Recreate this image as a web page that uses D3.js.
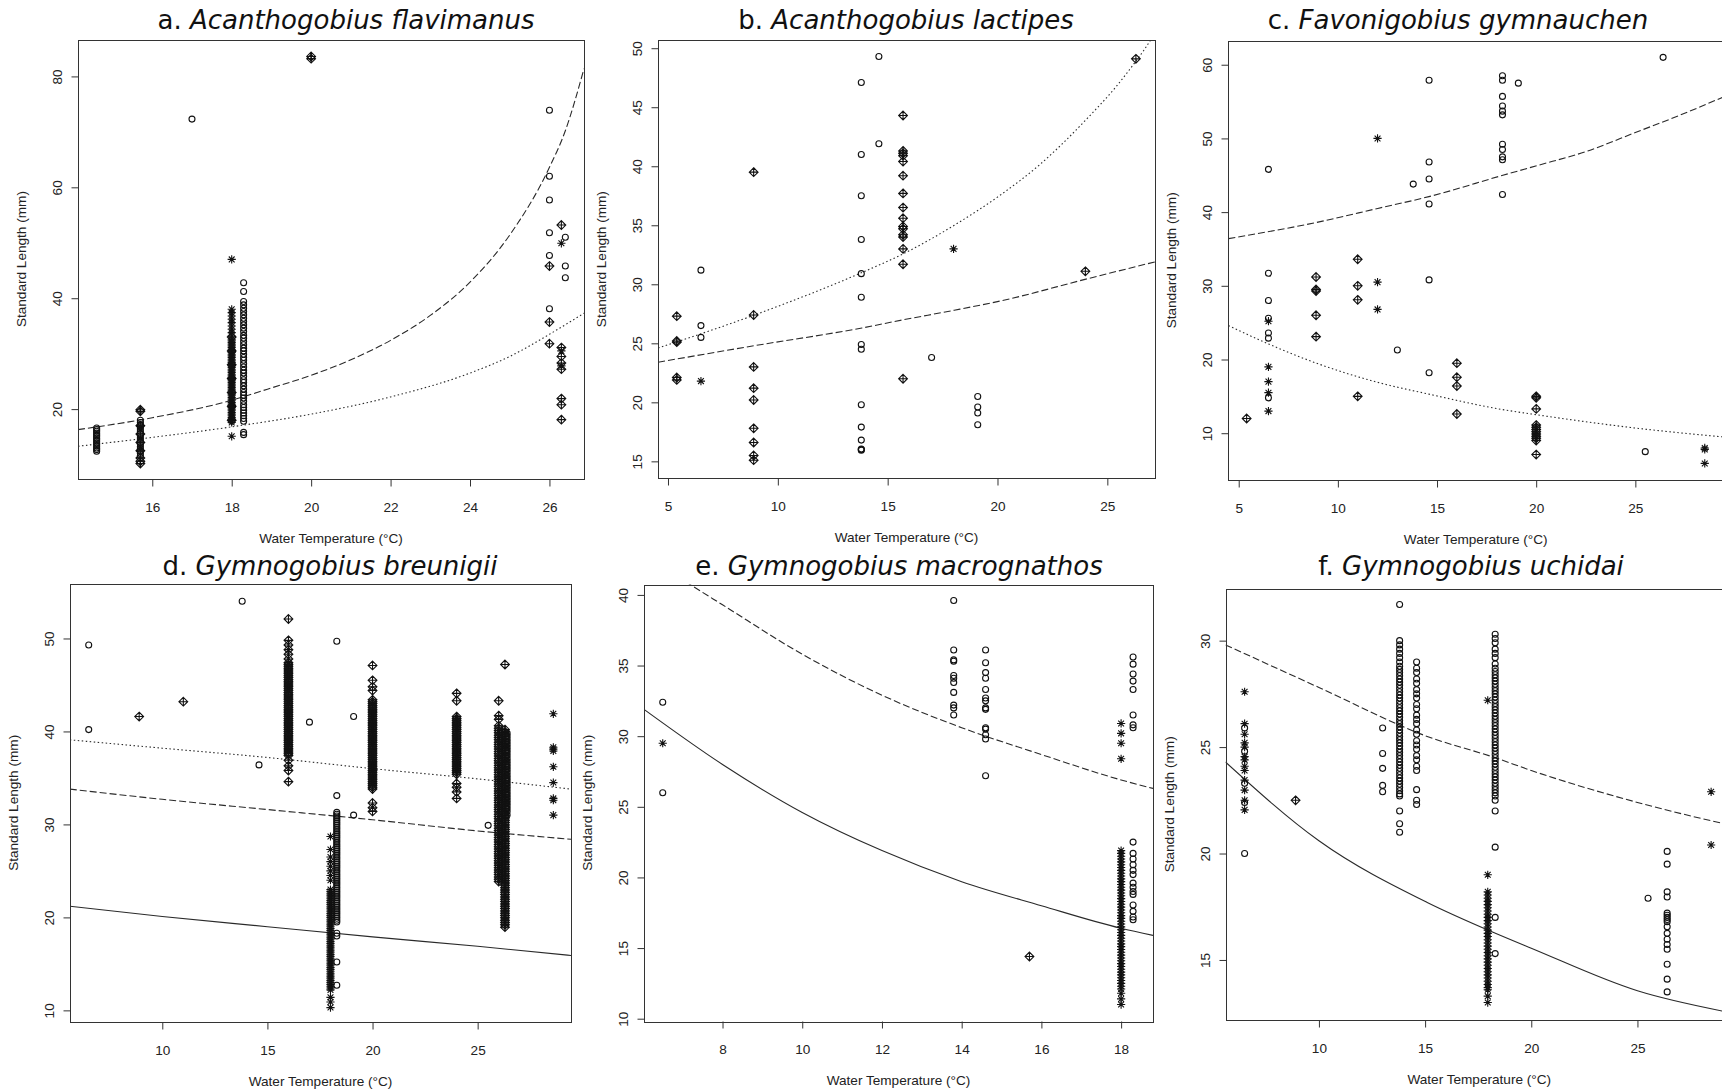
<!DOCTYPE html>
<html>
<head>
<meta charset="utf-8">
<script src="https://cdn.jsdelivr.net/npm/d3@7"></script>
<style>
  body { margin: 0; background: #fff; }
  svg { display: block; }
</style>
</head>
<body>
<svg width="1722" height="1092"></svg>
<script>
// each series: [temperature, [standard lengths...]]

// a. Acanthogobius flavimanus
const aCircle = [
  [14.6, [12.4,12.7,13.0,13.3,13.6,13.9,14.2,14.5,14.8,15.1,15.4,15.7,16.0,16.3,16.6]],
  [15.7, [11.6,12.0,12.4,12.8,13.2,13.6,14.0,14.4,14.8,15.2,15.6,16.0,16.4,16.8,17.2,17.6,18.0]],
  [17.0, [72.3]],
  [18.3, [15.4,15.8,17.8,18.3,18.8,19.3,19.8,20.3,20.8,21.4,22.0,22.5,23.0,23.6,24.2,24.8,25.3,25.9,26.5,27.0,27.6,28.2,28.8,29.3,29.9,30.5,31.0,31.6,32.2,32.8,33.3,34.0,34.6,35.2,35.8,36.4,37.0,37.6,38.2,38.8,39.4,41.2,42.8]],
  [26.0, [73.9,62.0,57.7,51.8,47.7,38.1]],
  [26.4, [51.0,45.8,43.7]]
];
const aDiamond = [
  [15.7, [10.2,10.6,11.2,12.5,14.0,15.5,17.0,19.6,19.9]],
  [18.0, [18.0,20.5,23.0,25.5,28.0,30.5,33.0]],
  [20.0, [83.2,83.6]],
  [26.0, [45.8,35.7,31.8]],
  [26.3, [53.2,31.1,29.5,28.3,27.2,21.9,20.8,18.1]]
];
const aAster = [
  [18.0, [15.1,17.6,17.9,18.2,18.5,18.8,19.1,19.4,19.7,20.0,20.3,20.6,20.9,21.2,21.5,21.8,22.1,22.4,22.7,23.0,23.3,23.6,23.9,24.2,24.5,24.8,25.1,25.4,25.7,26.0,26.3,26.6,26.9,27.2,27.5,27.8,28.1,28.4,28.7,29.0,29.3,29.6,29.9,30.2,30.5,30.8,31.1,31.4,31.7,32.0,32.3,32.6,33.2,33.8,34.4,35.0,35.6,36.2,36.8,37.4,38.0,47.0]],
  [26.3, [49.9,30.5,27.8]]
];
const aDash = [[14.13,16.3],[16,18.45],[18,21.6],[18.9,23.6],[20,26.1],[21,28.9],[22,32.4],[23,36.9],[24,42.9],[25,51.4],[26,63.6],[26.4,70.2],[26.87,81.4]];
const aDot = [[14.13,13.3],[16,14.9],[18,16.8],[20,19.1],[22,22.2],[24,26.5],[25,29.5],[26,33.5],[26.87,37.3]];

// b. Acanthogobius lactipes
const bCircle = [
  [6.5, [31.2,26.5,25.5]],
  [13.8, [47.1,41.0,37.5,33.8,30.9,28.9,24.9,24.5,19.8,17.9,16.8,16.0,15.95,16.05]],
  [14.6, [49.3,41.9]],
  [17.0, [23.8]],
  [19.1, [20.5,19.6,19.1,18.1]]
];
const bDiamond = [
  [5.4, [27.3,25.2,25.1,22.1,21.9]],
  [8.9, [39.5,27.4,23.0,21.2,20.2,17.8,16.6,15.5,15.1]],
  [15.7, [44.3,41.3,41.1,40.9,40.4,39.2,37.7,36.5,35.6,34.9,34.7,34.2,34.0,33.0,31.7,22.0]],
  [24.0, [31.1]],
  [26.3, [49.1]]
];
const bAster = [
  [6.5, [21.8]],
  [18.0, [33.0]]
];
const bDot = [[4.55,24.6],[8.94,27.4],[13.83,31.0],[15.73,32.6],[18.03,35.0],[20.16,37.6],[21.9,40.1],[24.16,44.2],[25.38,46.7],[26.34,49.0],[26.69,49.9],[27.17,51.3]];
const bDash = [[4.55,23.4],[8.94,24.8],[13.83,26.3],[15.73,27.0],[18.03,27.8],[20.16,28.6],[24.16,30.5],[27.17,31.9]];

// c. Favonigobius gymnauchen
const cCircle = [
  [6.5, [45.8,31.7,28.0,25.6,23.6,22.9,14.8]],
  [13.0, [21.3]],
  [13.8, [43.8]],
  [14.6, [57.9,46.8,44.5,41.1,30.8,18.2]],
  [18.3, [58.5,57.9,55.7,54.4,53.7,53.2,49.2,48.5,47.5,47.1,42.4]],
  [19.1, [57.5]],
  [25.5, [7.5]],
  [26.4, [61.0]]
];
const cDiamond = [
  [5.4, [12.0]],
  [8.9, [31.2,29.5,29.3,26.0,23.1]],
  [11.0, [33.6,30.0,28.1,15.0]],
  [16.0, [19.5,17.6,16.4,12.6]],
  [20.0, [15.0,14.8,13.3,11.1,10.8,10.5,10.2,9.9,9.6,9.3,9.0,7.1]]
];
const cAster = [
  [6.5, [25.2,19.0,17.0,15.5,13.0]],
  [12.0, [50.0,30.5,26.8]],
  [28.5, [8.0,7.8,5.9]]
];
const cDash = [[4.48,36.4],[8.92,38.6],[12.01,40.5],[14.59,42.1],[18.32,45.0],[20.03,46.3],[22.6,48.3],[25.0,50.8],[27.2,53.1],[29.42,55.6]];
const cDot = [[4.48,24.6],[6.51,22.1],[8.92,19.5],[12.01,16.9],[14.59,15.3],[18.32,13.2],[20.03,12.5],[25.0,10.7],[29.42,9.5]];

// d. Gymnogobius breunigii
const dCircle = [
  [6.5, [49.3,40.2]],
  [13.8, [54.0]],
  [14.6, [36.4]],
  [17.0, [41.0]],
  [18.3, [49.7,33.1,31.3,31.1,30.9,30.7,30.5,30.3,30.1,29.9,29.7,29.5,29.3,29.1,28.9,28.7,28.5,28.3,28.1,27.9,27.7,27.5,27.3,27.1,26.9,26.7,26.5,26.3,26.1,25.9,25.7,25.5,25.3,25.1,24.9,24.7,24.5,24.3,24.1,23.9,23.7,23.5,23.3,23.1,22.9,22.7,22.5,22.3,22.1,21.9,21.7,21.5,21.3,21.1,20.9,20.7,20.5,20.3,20.1,19.9,19.7,19.5,18.3,18.0,15.2,12.7]],
  [19.1, [41.6,31.0]],
  [25.5, [29.9]],
  [26.4, [39.8,39.5,39.2,38.9,38.6,38.3,38.0,37.7,37.4,37.1,36.8,36.5,36.2,35.9,35.6,35.3,35.0,34.7,34.4,34.1,33.8,33.5,33.2,32.9,32.6,32.3,32.0,31.7,31.4,31.0]]
];
const dDiamond = [
  [8.9, [41.6]],
  [11.0, [43.2]],
  [16.0, [52.1,49.8,49.3,48.8,48.3,47.8,47.4,47.2,47.0,46.8,46.6,46.4,46.2,46.0,45.8,45.6,45.4,45.2,45.0,44.8,44.6,44.4,44.2,44.0,43.8,43.6,43.4,43.2,43.0,42.8,42.6,42.4,42.2,42.0,41.8,41.6,41.4,41.2,41.0,40.8,40.6,40.4,40.2,40.0,39.8,39.6,39.4,39.2,39.0,38.8,38.6,38.4,38.2,38.0,37.8,37.6,37.4,36.9,36.3,35.8,34.6]],
  [20.0, [47.1,45.5,44.8,44.4,43.4,43.2,43.0,42.8,42.6,42.4,42.2,42.0,41.8,41.6,41.4,41.2,41.0,40.8,40.6,40.4,40.2,40.0,39.8,39.6,39.4,39.2,39.0,38.8,38.6,38.4,38.2,38.0,37.8,37.6,37.4,37.2,37.0,36.8,36.6,36.4,36.2,36.0,35.8,35.6,35.4,35.2,35.0,34.8,34.6,34.4,34.2,34.0,33.8,32.3,31.8,31.4]],
  [24.0, [44.1,43.3,41.6,41.4,41.2,41.0,40.8,40.6,40.4,40.2,40.0,39.8,39.6,39.4,39.2,39.0,38.8,38.6,38.4,38.2,38.0,37.8,37.6,37.4,37.2,37.0,36.8,36.6,36.4,36.2,36.0,35.8,35.6,35.4,34.4,34.0,33.5,32.8]],
  [26.0, [43.3,41.7,41.3,40.6,40.35,40.1,39.85,39.6,39.35,39.1,38.85,38.6,38.35,38.1,37.85,37.6,37.35,37.1,36.85,36.6,36.35,36.1,35.85,35.6,35.35,35.1,34.85,34.6,34.35,34.1,33.85,33.6,33.35,33.1,32.85,32.6,32.35,32.1,31.85,31.6,31.35,31.1,30.85,30.6,30.35,30.1,29.85,29.6,29.35,29.1,28.85,28.6,28.35,28.1,27.85,27.6,27.35,27.1,26.85,26.6,26.35,26.1,25.85,25.6,25.35,25.1,24.85,24.6,24.35,24.1,23.85]],
  [26.3, [47.2,40.2,39.95,39.7,39.45,39.2,38.95,38.7,38.45,38.2,37.95,37.7,37.45,37.2,36.95,36.7,36.45,36.2,35.95,35.7,35.45,35.2,34.95,34.7,34.45,34.2,33.95,33.7,33.45,33.2,32.95,32.7,32.45,32.2,31.95,31.7,31.45,31.2,30.95,30.7,30.45,30.2,29.95,29.7,29.45,29.2,28.95,28.7,28.45,28.2,27.95,27.7,27.45,27.2,26.95,26.7,26.45,26.2,25.95,25.7,25.45,25.2,24.95,24.7,24.45,24.2,23.95,23.7,23.45,23.2,22.95,22.7,22.45,22.2,21.95,21.7,21.45,21.2,20.95,20.7,20.45,20.2,19.95,19.7,19.45,19.2,18.95]]
];
const dAster = [
  [18.0, [28.7,27.3,26.5,26.0,25.5,25.0,24.5,24.0,23.0,22.8,22.6,22.4,22.2,22.0,21.8,21.6,21.4,21.2,21.0,20.8,20.6,20.4,20.2,20.0,19.8,19.6,19.4,19.2,19.0,18.8,18.6,18.4,18.2,18.0,17.8,17.6,17.4,17.2,17.0,16.8,16.6,16.4,16.2,16.0,15.8,15.6,15.4,15.2,15.0,14.8,14.6,14.4,14.2,14.0,13.8,13.6,13.4,13.2,13.0,12.8,12.6,12.4,12.2,11.4,10.9,10.3]],
  [28.6, [41.9,38.3,38.1,37.9,36.2,34.5,32.8,32.6,31.0]]
];
const dDot = [[5.6,39.1],[10,38.2],[15,37.2],[20,36.0],[25,34.9],[29.44,33.8]];
const dDash = [[5.6,33.8],[10,32.7],[15,31.6],[20,30.5],[25,29.3],[29.44,28.4]];
const dSolid = [[5.6,21.2],[10,20.1],[15,19.0],[20,17.9],[25,16.9],[29.44,15.9]];

// e. Gymnogobius macrognathos
const eCircle = [
  [6.5, [32.4,26.0]],
  [13.8, [39.6,36.1,35.4,35.3,34.3,34.1,33.8,33.1,32.2,32.0,31.5]],
  [14.6, [36.1,35.2,34.5,34.1,33.3,32.7,32.5,32.0,31.9,30.6,30.5,30.1,29.8,27.2]],
  [18.3, [35.6,35.1,34.4,33.9,33.3,31.5,30.8,30.6,22.5,21.7,21.3,20.9,20.5,20.2,19.6,19.3,19.0,18.8,18.05,17.6,17.2,17.0]]
];
const eDiamond = [
  [15.7, [14.4]]
];
const eAster = [
  [6.5, [29.5]],
  [18.0, [30.9,30.2,29.5,28.4,21.9,21.7,21.5,21.3,21.1,20.9,20.7,20.5,20.3,20.1,19.9,19.7,19.5,19.3,19.1,18.9,18.7,18.5,18.3,18.1,17.9,17.7,17.5,17.3,17.1,16.9,16.7,16.5,16.3,16.1,15.9,15.7,15.5,15.3,15.1,14.9,14.7,14.5,14.3,14.1,13.9,13.7,13.5,13.3,13.1,12.9,12.7,12.5,12.3,12.1,11.8,11.4,11.0]]
];
const eDash = [[6.03,42.9],[7.19,40.73],[8,39.3],[10,35.8],[12,32.9],[14,30.6],[16,28.7],[18,26.9],[18.8,26.3]];
const eSolid = [[6.03,31.9],[8,28.0],[10,24.6],[12,21.9],[14,19.7],[16,18.0],[18,16.4],[18.8,15.9]];

// f. Gymnogobius uchidai
const fCircle = [
  [6.5, [25.9,24.8,23.3,22.4,20.0]],
  [13.0, [25.9,24.7,24.0,23.2,22.9]],
  [13.8, [31.7,30.0,29.8,29.6,29.4,29.2,29.0,28.8,28.65,28.5,28.35,28.2,28.05,27.9,27.75,27.6,27.45,27.3,27.15,27.0,26.85,26.7,26.55,26.4,26.25,26.1,25.95,25.8,25.65,25.5,25.35,25.2,25.05,24.9,24.75,24.6,24.45,24.3,24.15,24.0,23.85,23.7,23.55,23.4,23.25,23.1,22.95,22.8,22.7,22.0,21.4,21.0]],
  [14.6, [29.0,28.7,28.5,28.2,28.0,27.7,27.5,27.3,27.0,26.8,26.5,26.3,26.1,25.8,25.6,25.3,25.1,24.9,24.6,24.4,24.1,23.9,23.0,22.5,22.3]],
  [18.3, [30.3,30.1,29.9,29.6,29.4,29.2,28.9,28.7,28.55,28.4,28.25,28.1,27.95,27.8,27.65,27.5,27.35,27.2,27.05,26.9,26.75,26.6,26.45,26.3,26.15,26.0,25.85,25.7,25.55,25.4,25.25,25.1,24.95,24.8,24.65,24.5,24.35,24.2,24.05,23.9,23.75,23.6,23.45,23.3,23.15,23.0,22.85,22.7,22.5,22.0,20.3,17.0,15.3]],
  [25.5, [17.9]],
  [26.4, [20.1,19.5,18.2,17.96,17.2,17.1,17.0,16.9,16.8,16.56,16.25,15.97,15.73,15.5,14.8,14.1,13.5]]
];
const fDiamond = [
  [8.9, [22.5]]
];
const fAster = [
  [6.5, [27.6,26.1,25.6,25.2,25.0,24.55,24.4,24.1,23.9,23.45,22.98,22.5,22.05]],
  [17.95, [27.2,19.0,18.2,18.05,17.9,17.75,17.6,17.45,17.3,17.15,17.0,16.85,16.7,16.55,16.4,16.25,16.1,15.95,15.8,15.65,15.5,15.35,15.2,15.05,14.9,14.75,14.6,14.45,14.3,14.15,14.0,13.85,13.7,13.6,13.3,13.0]],
  [28.47, [22.9,20.4]]
];
const fDash = [[5.6,29.8],[10,27.8],[15.1,25.5],[18.3,24.5],[20,23.9],[25,22.4],[29.5,21.3]];
const fSolid = [[5.6,24.3],[10,20.6],[15.1,17.7],[18.2,16.3],[20,15.55],[25,13.55],[29.5,12.5]];

// axis ticks
const aXTicks = [16,18,20,22,24,26], aYTicks = [20,40,60,80];
const bXTicks = [5,10,15,20,25], bYTicks = [15,20,25,30,35,40,45,50];
const cXTicks = [5,10,15,20,25], cYTicks = [10,20,30,40,50,60];
const dXTicks = [10,15,20,25], dYTicks = [10,20,30,40,50];
const eXTicks = [8,10,12,14,16,18], eYTicks = [10,15,20,25,30,35,40];
const fXTicks = [10,15,20,25], fYTicks = [15,20,25,30];

const titles = [
  ["a.", "Acanthogobius flavimanus"], ["b.", "Acanthogobius lactipes"], ["c.", "Favonigobius gymnauchen"],
  ["d.", "Gymnogobius breunigii"], ["e.", "Gymnogobius macrognathos"], ["f.", "Gymnogobius uchidai"]
];

// layout of the six plot frames
const panels = [
  {x0: 78, x1: 584, y0: 39.6, y1: 478.6, xd: [14.13, 26.87], yd: [7.47, 86.64], tx: 346, ty: 29,
   xt: aXTicks, yt: aYTicks, pts: [aCircle, aDiamond, aAster], lines: [[aDash, "dash"], [aDot, "dot"]]},
  {x0: 658, x1: 1155, y0: 40.3, y1: 478, xd: [4.545, 27.17], yd: [13.59, 50.67], tx: 906, ty: 29,
   xt: bXTicks, yt: bYTicks, pts: [bCircle, bDiamond, bAster], lines: [[bDash, "dash"], [bDot, "dot"]]},
  {x0: 1228.4, x1: 1723, y0: 40.7, y1: 480, xd: [4.48, 29.42], yd: [3.65, 63.26], tx: 1458, ty: 29,
   xt: cXTicks, yt: cYTicks, pts: [cCircle, cDiamond, cAster], lines: [[cDash, "dash"], [cDot, "dot"]]},
  {x0: 70, x1: 571, y0: 583.9, y1: 1021.8, xd: [5.61, 29.44], yd: [8.77, 55.87], tx: 330, ty: 575,
   xt: dXTicks, yt: dYTicks, pts: [dCircle, dDiamond, dAster], lines: [[dDot, "dot"], [dDash, "dash"], [dSolid, "solid"]]},
  {x0: 644, x1: 1153, y0: 584.6, y1: 1021.1, xd: [6.03, 18.8], yd: [9.83, 40.73], tx: 899, ty: 575,
   xt: eXTicks, yt: eYTicks, pts: [eCircle, eDiamond, eAster], lines: [[eDash, "dash"], [eSolid, "solid"]]},
  {x0: 1225.5, x1: 1733, y0: 588.7, y1: 1020, xd: [5.6, 29.5], yd: [12.18, 32.44], tx: 1471, ty: 575,
   xt: fXTicks, yt: fYTicks, pts: [fCircle, fDiamond, fAster], lines: [[fDash, "dash"], [fSolid, "solid"]]}
];

const ink = "#111";
const shapes = [
  "M3,0A3,3 0 1,1 -3,0A3,3 0 1,1 3,0Z",
  "M0,-4.4L4.4,0L0,4.4L-4.4,0Z M0,-4.4V4.4 M-4.4,0H4.4",
  "M-4.1,0H4.1 M0,-4.1V4.1 M-2.9,-2.9L2.9,2.9 M-2.9,2.9L2.9,-2.9"
];
const dashes = {dash: "7,3", dot: "1.5,2.5", solid: null};
const sans = "'Liberation Sans', Arial, sans-serif";

const svg = d3.select("svg");

panels.forEach((p, i) => {
  const x = d3.scaleLinear().domain(p.xd).range([p.x0, p.x1]);
  const y = d3.scaleLinear().domain(p.yd).range([p.y1, p.y0]);
  const g = svg.append("g");

  const clipId = "clip" + i;
  svg.append("clipPath").attr("id", clipId)
    .append("rect")
    .attr("x", p.x0).attr("y", p.y0)
    .attr("width", p.x1 - p.x0).attr("height", p.y1 - p.y0);

  const plot = g.append("g").attr("clip-path", `url(#${clipId})`);

  // fitted curves
  const line = d3.line().x(d => x(d[0])).y(d => y(d[1])).curve(d3.curveMonotoneX);
  p.lines.forEach(([pts, style]) => {
    plot.append("path")
      .attr("d", line(pts))
      .attr("fill", "none")
      .attr("stroke", "#2a2a2a")
      .attr("stroke-width", 1.1)
      .attr("stroke-dasharray", dashes[style]);
  });

  // observations: circle, diamond-plus, asterisk
  p.pts.forEach((series, k) => {
    const flat = series.flatMap(([t, vals]) => vals.map(v => [t, v]));
    plot.selectAll(null)
      .data(flat)
      .join("path")
      .attr("transform", d => `translate(${x(d[0])},${y(d[1])})`)
      .attr("d", shapes[k])
      .attr("fill", "none")
      .attr("stroke", ink)
      .attr("stroke-width", 1.1);
  });

  // frame
  g.append("rect")
    .attr("x", Math.round(p.x0) + 0.5).attr("y", Math.round(p.y0) + 0.5)
    .attr("width", Math.round(p.x1 - p.x0)).attr("height", Math.round(p.y1 - p.y0))
    .attr("fill", "none").attr("stroke", "#333").attr("stroke-width", 1);

  // x axis
  const xa = g.append("g")
    .attr("transform", `translate(0,${Math.round(p.y1) + 0.5})`)
    .call(d3.axisBottom(x).tickValues(p.xt).tickSize(7).tickPadding(15.5).tickFormat(d3.format("d")));
  xa.select(".domain").remove();
  xa.selectAll("line").attr("stroke", "#333");
  xa.selectAll("text")
    .attr("fill", "#222")
    .style("font-family", sans)
    .style("font-size", "13.6px");

  // y axis, labels rotated like R
  const ya = g.append("g")
    .attr("transform", `translate(${Math.round(p.x0) + 0.5},0)`)
    .call(d3.axisLeft(y).tickValues(p.yt).tickSize(7).tickFormat(d3.format("d")));
  ya.select(".domain").remove();
  ya.selectAll("line").attr("stroke", "#333");
  ya.selectAll("text")
    .attr("x", null).attr("dy", null)
    .attr("transform", "translate(-17,0) rotate(-90)")
    .attr("text-anchor", "middle")
    .attr("fill", "#222")
    .style("font-family", sans)
    .style("font-size", "13.6px");

  // axis titles
  g.append("text")
    .attr("x", (p.x0 + p.x1) / 2)
    .attr("y", p.y1 + 64)
    .attr("text-anchor", "middle")
    .attr("fill", "#222")
    .style("font-family", sans)
    .style("font-size", "13.6px")
    .text("Water Temperature (°C)");

  g.append("text")
    .attr("transform", `translate(${p.x0 - 52},${(p.y0 + p.y1) / 2}) rotate(-90)`)
    .attr("text-anchor", "middle")
    .attr("fill", "#222")
    .style("font-family", sans)
    .style("font-size", "13.6px")
    .text("Standard Length (mm)");

  // panel title
  const t = g.append("text")
    .attr("x", p.tx).attr("y", p.ty)
    .attr("text-anchor", "middle")
    .attr("fill", "#111")
    .style("font-family", "'DejaVu Sans', Verdana, sans-serif")
    .style("font-size", "26px");
  t.append("tspan").text(titles[i][0] + " ");
  t.append("tspan").style("font-style", "italic").text(titles[i][1]);
});
</script>
</body>
</html>
